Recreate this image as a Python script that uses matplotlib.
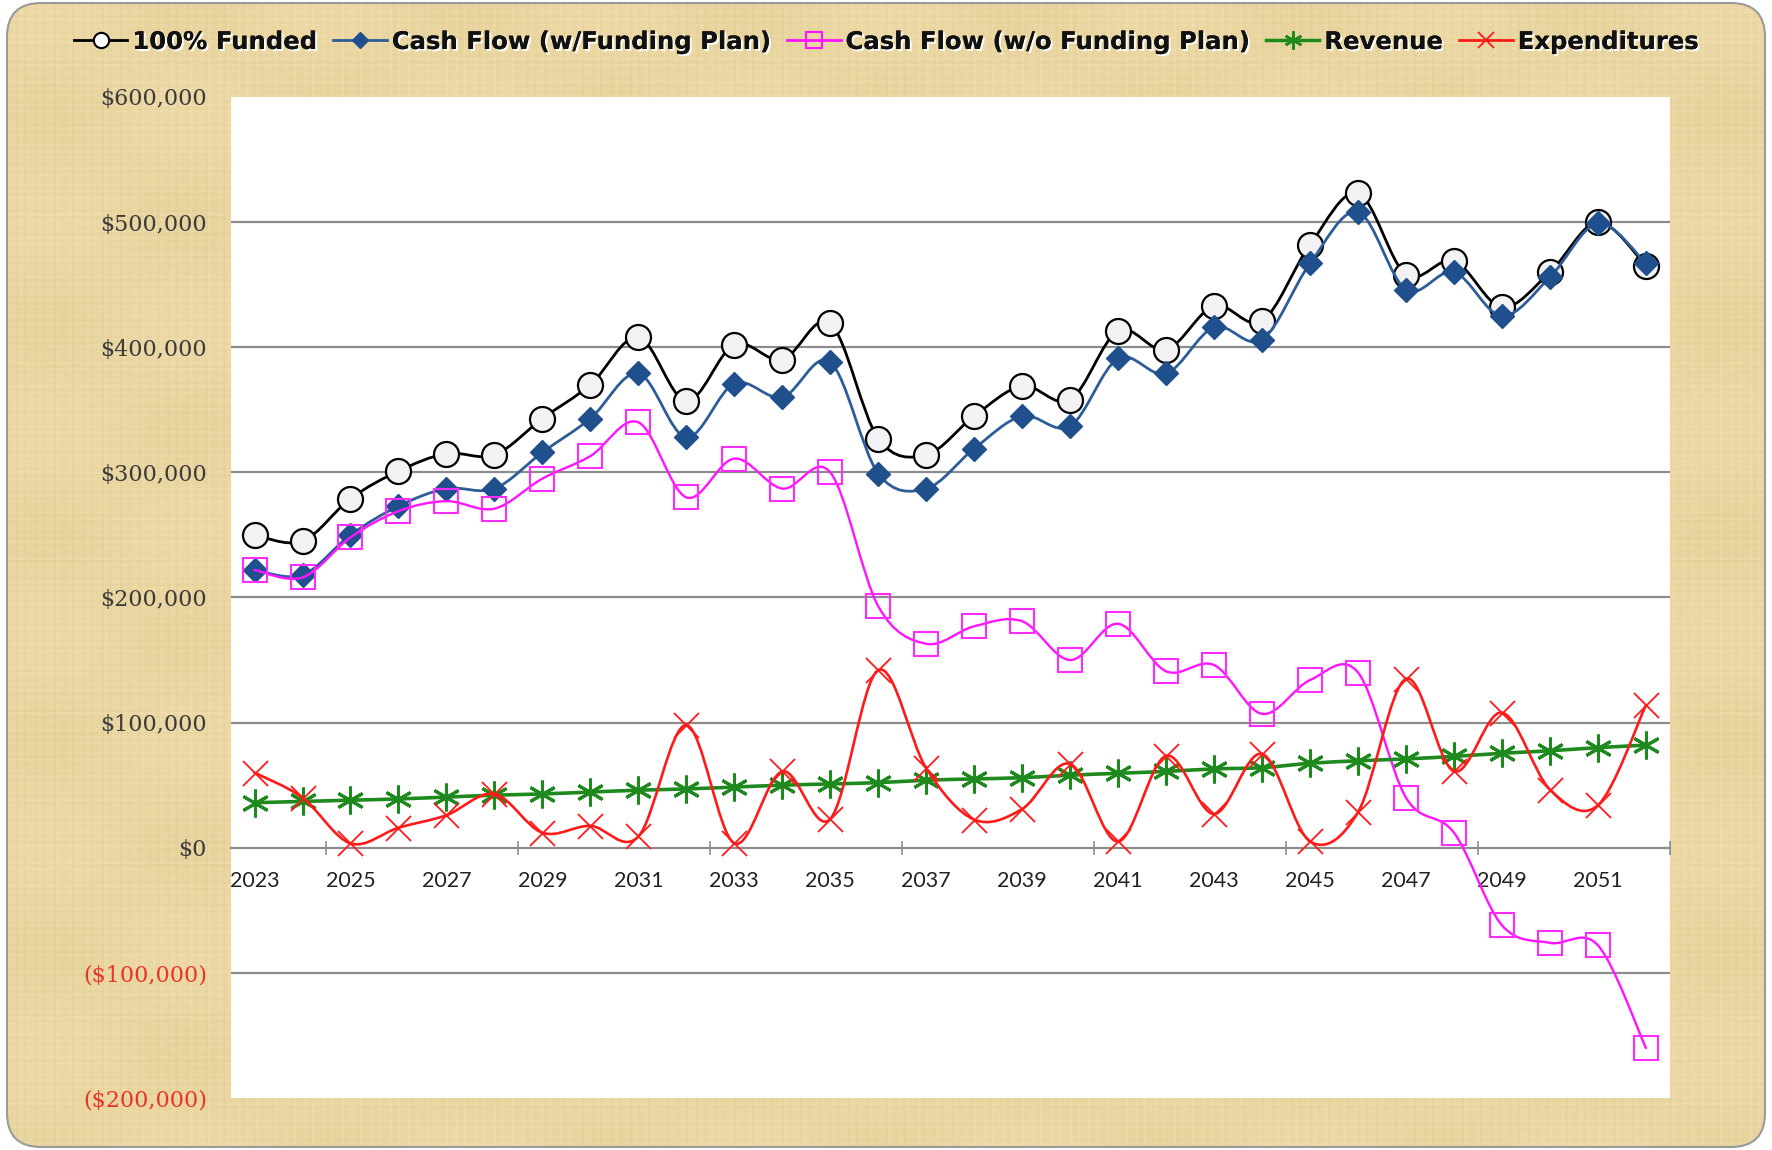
import numpy as np
import matplotlib
matplotlib.use('Agg')
import matplotlib.pyplot as plt
from matplotlib.path import Path
from matplotlib.patches import PathPatch, FancyBboxPatch
from matplotlib.lines import Line2D
from matplotlib.ticker import FixedLocator
import matplotlib.patheffects as pe

# Values (dollars)
years = list(range(2023, 2053))
funded_100 = [250000, 245000, 279000, 301000, 315000, 314000, 343000, 370000, 408000, 357000,
              402000, 390000, 419000, 327000, 314000, 345000, 369000, 358000, 413000, 398000,
              433000, 421000, 482000, 523000, 458000, 469000, 432000, 460000, 500000, 465000]
cash_with_plan = [222000, 218000, 250000, 273000, 287000, 287000, 316000, 343000, 379000, 328000,
                  371000, 360000, 388000, 299000, 287000, 319000, 345000, 337000, 391000, 379000,
                  416000, 406000, 467000, 508000, 446000, 460000, 425000, 456000, 499000, 467000]
cash_without_plan = [222000, 216000, 248000, 269000, 277000, 271000, 295000, 313000, 340000, 280000,
                     311000, 287000, 300000, 193000, 163000, 177000, 181000, 150000, 179000, 141000,
                     146000, 107000, 134000, 140000, 40000, 12000, -62000, -76000, -78000, -160000]
revenue = [36000, 37000, 38000, 39000, 40500, 42000, 43000, 44500, 46000, 47000,
           48500, 50000, 51000, 52000, 54000, 55000, 56000, 58000, 59500, 61000,
           63000, 64000, 67500, 69500, 71000, 73000, 75500, 77500, 80000, 82000]
expenditures = [60000, 40000, 3500, 16000, 26000, 43000, 12000, 17500, 9000, 98000,
                3500, 61000, 23000, 142000, 63500, 22500, 31000, 67000, 5000, 73500,
                27000, 75000, 5000, 28500, 135000, 61000, 108000, 46500, 34000, 114000]

y_ticks = [-200000, -100000, 0, 100000, 200000, 300000, 400000, 500000, 600000]
x_labels = years[::2]


def smooth_line(ax, x, y, color, lw, zorder):
    # Excel-style smoothed line: Catmull-Rom as cubic Bezier segments
    n = len(x)
    verts = [(x[0], y[0])]
    codes = [Path.MOVETO]
    for i in range(n - 1):
        a = max(i - 1, 0)
        d = min(i + 2, n - 1)
        c1 = (x[i] + (x[i + 1] - x[a]) / 6, y[i] + (y[i + 1] - y[a]) / 6)
        c2 = (x[i + 1] - (x[d] - x[i]) / 6, y[i + 1] - (y[d] - y[i]) / 6)
        verts += [c1, c2, (x[i + 1], y[i + 1])]
        codes += [Path.CURVE4] * 3
    ax.add_patch(PathPatch(Path(verts, codes), fill=False, edgecolor=color,
                           lw=lw, zorder=zorder, capstyle='round', joinstyle='round'))


W, H = 1772, 1150
fig = plt.figure(figsize=(W / 100, H / 100), dpi=100)
fig.patch.set_facecolor('white')

# parchment background (fine weave look)
bg = fig.add_axes([0, 0, 1, 1])
bg.set_xlim(0, W)
bg.set_ylim(0, H)
bg.axis('off')
yy, xx = np.mgrid[0:H // 2, 0:W // 2]
shade = (0.012 * np.sin(xx * 1.7) * np.sin(xx * 0.37 + 1.0)
         + 0.012 * np.sin(yy * 1.9) * np.sin(yy * 0.29 + 2.0)
         + 0.010 * np.sin(xx * 0.045 + 0.5) * np.sin(yy * 0.06 + 1.3))
base = np.array([0.915, 0.840, 0.635])
tex = np.clip(base[None, None, :] + shade[:, :, None] * np.array([1.0, 1.0, 1.4]), 0, 1)
im = bg.imshow(tex, extent=[0, W, 0, H], aspect='auto', zorder=0)
frame = FancyBboxPatch((7, 3), W - 14, H - 6, boxstyle='round,pad=0,rounding_size=34',
                       facecolor='none', edgecolor='#9a9a9a', lw=1.5, zorder=2)
bg.add_patch(frame)
im.set_clip_path(frame)

# plot area
ax = fig.add_axes([0.1301, 0.0452, 0.8123, 0.8705])
ax.set_facecolor('white')
ax.set_xlim(years[0] - 0.5, years[-1] + 0.5)
ax.set_ylim(y_ticks[0], y_ticks[-1])

for v in y_ticks[1:-1]:
    if v != 0:
        ax.axhline(v, color='#8c8c8c', lw=1.6, zorder=1)

for s in ['top', 'right', 'left']:
    ax.spines[s].set_visible(False)
ax.spines['bottom'].set_position(('data', 0))
ax.spines['bottom'].set_color('#8c8c8c')
ax.spines['bottom'].set_linewidth(1.6)
ax.spines['bottom'].set_zorder(1)

ax.set_yticks(y_ticks)
ax.set_yticklabels(['(${:,.0f})'.format(-v) if v < 0 else '${:,.0f}'.format(v) for v in y_ticks],
                   family='DejaVu Serif', fontsize=16)
for v, lab in zip(y_ticks, ax.get_yticklabels()):
    lab.set_color('#e8352b' if v < 0 else '#3a3a3a')
ax.tick_params(axis='y', length=0, pad=17)

ax.set_xticks(x_labels)
ax.set_xticklabels([str(v) for v in x_labels], family='Lato', fontsize=15.5, color='#222222')
ax.xaxis.set_minor_locator(FixedLocator([years[0] - 0.5 + k for k in range(2, 31, 4)]))
ax.tick_params(axis='x', which='major', length=0, pad=17)
ax.tick_params(axis='x', which='minor', length=10, direction='inout', color='#8c8c8c', width=1.2)

# series
smooth_line(ax, years, funded_100, 'black', 2.0, 3)
ax.plot(years, funded_100, ls='none', marker='o', ms=18, mfc='#f2f2f4', mec='black', mew=1.6, zorder=4)

smooth_line(ax, years, cash_with_plan, '#2c5d99', 2.0, 5)
ax.plot(years, cash_with_plan, ls='none', marker='D', ms=12.5, mfc='#1f4f8c', mec='#1f4f8c', zorder=6)

smooth_line(ax, years, cash_without_plan, '#ff14ff', 1.7, 7)
ax.plot(years, cash_without_plan, ls='none', marker='s', ms=17, mfc='none', mec='#ff2bff', mew=1.5, zorder=8)

smooth_line(ax, years, revenue, '#1e8a1e', 2.6, 9)
ax.plot(years, revenue, ls='none', marker=(6, 2, 0), ms=20, mec='#1e8a1e', mew=2.2, zorder=10)

smooth_line(ax, years, expenditures, '#ff1a1a', 1.9, 11)
ax.plot(years, expenditures, ls='none', marker='x', ms=18, mec='#ff1a1a', mew=1.3, zorder=12)

# legend
handles = [
    Line2D([], [], color='black', lw=2, marker='o', ms=11, mfc='white', mec='black', mew=1.5),
    Line2D([], [], color='#2c5d99', lw=2, marker='D', ms=8, mfc='#1f4f8c', mec='#1f4f8c'),
    Line2D([], [], color='#ff14ff', lw=2, marker='s', ms=11, mfc='none', mec='#ff14ff', mew=1.5),
    Line2D([], [], color='#1e8a1e', lw=2.5, marker=(6, 2, 0), ms=13, mec='#1e8a1e', mew=1.8),
    Line2D([], [], color='#ff1a1a', lw=2, marker='x', ms=12, mec='#ff1a1a', mew=1.3),
]
labels = ['100% Funded', 'Cash Flow (w/Funding Plan)', 'Cash Flow (w/o Funding Plan)',
          'Revenue', 'Expenditures']
leg = fig.legend(handles, labels, loc='center', bbox_to_anchor=(0.5, 0.9635), ncol=5,
                 frameon=False, handlelength=2.2, handletextpad=0.2, columnspacing=0.7,
                 prop={'family': 'DejaVu Sans', 'weight': 'bold', 'size': 17.5})
for t in leg.get_texts():
    t.set_color('#111111')
    t.set_path_effects([pe.withSimplePatchShadow(offset=(1.5, -1.5), shadow_rgbFace='white', alpha=0.9),
                        pe.Normal()])

fig.savefig('out.png', dpi=100)
